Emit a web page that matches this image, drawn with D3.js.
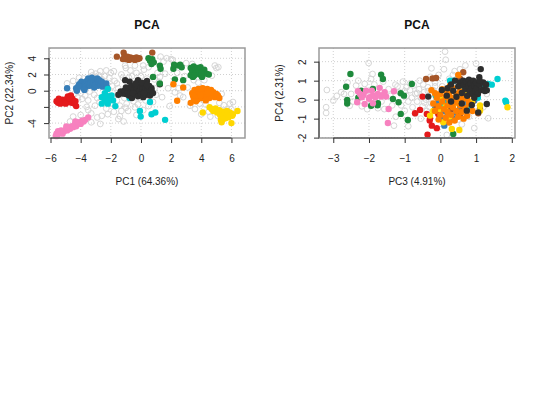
<!DOCTYPE html>
<html><head><meta charset="utf-8">
<script src="https://cdn.jsdelivr.net/npm/d3@7"></script>
<style>
body{margin:0;background:#fff;}
svg{display:block;font-family:"Liberation Sans",Arial,Helvetica,sans-serif;}
</style></head>
<body><svg id="c" width="540" height="400"></svg>
<script>
// ---------- DATA: panel 1 (PC1 vs PC2) ----------
const xTicks1 = [-6,-4,-2,0,2,4,6];
const yTicks1 = [-4,-2,0,2,4];
const yLabels1 = ["-4","","0","2","4"];
const xTitle1 = "PC1 (64.36%)";
const yTitle1 = "PC2 (22.34%)";

const gray1 = [[-4.9,0.9],[-4.5,1.2],[-4.4,-0.4],[-4.2,-0.8],[-4.0,-0.3],[-3.9,-1.0],[-3.7,-0.6],[-3.5,-1.2],[-3.4,-0.1],[-3.3,2.3],[-3.2,1.9],[-3.1,-0.5],[-3.05,-1.85],[-3.0,2.1],[-2.9,-0.9],[-2.8,1.9],[-2.75,-1.4],[-2.7,2.4],[-2.6,-3.1],[-2.7,-4.1],[-3.3,-3.9],[-3.5,-2.4],[-3.3,-2.8],[-4.7,-3.8],[-4.5,-3.2],[-4.0,-3.0],[-2.2,-2.9],[-2.4,1.8],[-2.3,2.5],[-2.1,1.6],[-2.0,2.2],[-1.9,0.6],[-1.8,2.4],[-1.75,1.2],[-1.6,-1.2],[-1.5,0.3],[-1.5,-3.5],[-1.4,-1.85],[-1.4,-3.15],[-1.3,2.0],[-1.3,-2.5],[-1.2,1.6],[-1.15,-3.8],[-1.1,-0.9],[-1.05,3.1],[-1.0,2.8],[-0.95,-1.6],[-0.85,-2.5],[-0.8,1.6],[-0.7,2.5],[-0.6,1.8],[-0.5,-1.3],[-0.4,3.1],[-0.4,-2.05],[-0.3,2.2],[-0.2,-1.7],[0.0,1.8],[0.15,3.1],[0.15,-2.4],[0.2,2.6],[0.3,-1.2],[0.4,1.5],[0.5,2.9],[0.9,0.3],[1.0,-0.5],[1.1,2.2],[1.26,1.7],[1.3,4.2],[1.5,3.6],[1.6,2.1],[1.7,4.0],[1.8,0.3],[1.9,-1.9],[2.0,3.9],[2.1,3.8],[2.25,-0.2],[2.4,2.2],[2.5,0.3],[2.6,-0.6],[2.8,-0.8],[2.9,1.8],[3.0,3.4],[3.1,0.4],[3.25,-1.85],[3.4,3.3],[3.5,1.3],[3.58,-2.26],[3.8,1.0],[3.9,-1.6],[4.0,-2.9],[4.2,1.3],[4.3,-1.7],[4.5,-2.6],[4.7,1.85],[4.9,3.1],[5.0,2.8],[5.0,-2.5],[5.13,2.9],[5.2,-1.5],[5.35,-0.4],[5.35,-3.5],[5.5,-1.8],[5.7,-2.3],[5.9,-1.6],[6.0,-2.3],[6.1,-1.4],[4.6,-3.2],[5.1,-3.1],[-0.6,0.9],[-2.5,0.6],[-1.9,-0.2],[0.8,-1.4],[1.4,-0.8],[-3.6,-2.0],[-0.1,-0.9],[-2.6,1.4],[-3.8,1.5],[-4.1,1.6],[-1.6,0.9],[-1.2,-0.4],[-2.0,-1.6],[-2.3,-2.2],[-1.0,-2.1],[0.5,-1.9],[1.2,1.1],[0.9,1.4],[-0.3,-3.0],[-1.8,-2.6],[-2.9,-3.3]];
const red1 = [[-5.6,-1.3],[-5.5,-1.5],[-5.4,-1.2],[-5.3,-1.4],[-5.2,-1.1],[-5.1,-1.5],[-5.0,-1.3],[-4.9,-1.0],[-4.85,-0.7],[-4.8,-1.4],[-4.7,-1.2],[-4.65,-0.6],[-4.6,-1.5],[-4.55,-1.0],[-4.5,-1.3],[-4.4,-1.6],[-4.3,-1.9],[-4.35,-1.3],[-5.35,-1.6],[-5.0,-1.6],[-4.75,-0.9],[-5.45,-1.0]];
const pink1 = [[-5.65,-5.6],[-5.6,-5.3],[-5.5,-5.0],[-5.4,-5.2],[-5.3,-4.9],[-5.2,-5.3],[-5.1,-5.0],[-5.0,-4.8],[-4.9,-4.9],[-4.8,-4.6],[-4.7,-4.7],[-4.6,-4.4],[-4.5,-4.5],[-4.4,-4.2],[-4.3,-4.4],[-4.2,-4.0],[-4.1,-3.9],[-4.0,-4.1],[-3.9,-3.7],[-3.8,-3.8],[-3.7,-3.6],[-3.5,-3.3],[-4.35,-3.8],[-5.55,-5.6],[-4.95,-4.4]];
const blue1 = [[-4.9,0.3],[-4.3,0.3],[-4.25,0.0],[-4.1,0.8],[-4.0,0.5],[-3.95,1.1],[-3.85,0.7],[-3.8,0.3],[-3.7,0.9],[-3.65,0.5],[-3.6,1.2],[-3.5,0.8],[-3.5,1.5],[-3.4,0.6],[-3.35,1.0],[-3.3,1.3],[-3.2,0.7],[-3.15,1.0],[-3.1,0.4],[-3.0,1.2],[-3.0,0.8],[-2.9,1.5],[-2.85,0.6],[-2.8,1.0],[-2.75,1.3],[-2.7,0.8],[-2.6,1.1],[-2.55,0.5],[-2.5,0.9],[-2.4,0.7],[-2.3,0.9],[-2.25,0.4],[-3.75,0.1],[-3.25,1.6],[-4.15,0.6]];
const cyan1 = [[-2.6,-0.8],[-2.2,0.2],[-2.4,-0.3],[-2.6,-1.6],[-2.4,-1.2],[-2.1,-1.0],[-1.85,-1.2],[-1.7,-1.9],[-2.2,-1.6],[-1.95,-0.6],[-0.75,-0.9],[-0.07,-2.5],[-0.02,-3.2],[0.7,-2.9],[0.95,-2.7],[1.6,-3.6],[0.6,-1.4],[-2.3,-0.6]];
const black1 = [[-1.05,1.3],[-0.75,1.1],[-0.2,1.3],[0.4,1.2],[0.7,0.3],[1.25,0.8],[-1.35,-0.1],[-1.2,-0.35],[-1.1,0.0],[-1.0,-0.4],[-0.9,-0.1],[-0.85,0.3],[-0.8,-0.6],[-0.7,-0.2],[-0.65,0.5],[-0.6,-0.9],[-0.5,0.1],[-0.45,-0.4],[-0.4,0.7],[-0.3,-0.2],[-0.25,0.3],[-0.2,-0.7],[-0.1,0.0],[-0.05,0.6],[0.0,-0.4],[0.1,0.2],[0.15,-0.8],[0.2,0.9],[0.25,-0.1],[0.3,0.4],[0.35,-0.5],[0.45,0.1],[0.5,-0.2],[0.55,0.6],[0.6,-0.6],[0.7,0.0],[-1.5,-0.5],[-0.55,-0.3],[0.05,1.0],[-0.35,0.9],[0.4,0.7],[-1.0,0.4],[0.2,-0.3],[0.8,-0.3]];
const brown1 = [[-1.6,4.2],[-1.15,4.7],[-1.1,4.3],[-1.0,3.9],[-0.9,4.2],[-0.8,3.8],[-0.7,4.1],[-0.6,3.9],[-0.5,4.0],[-0.4,3.8],[-0.3,4.1],[-0.2,3.9],[-0.1,4.0],[-1.2,3.9],[0.75,4.7]];
const green1 = [[0.5,4.0],[0.6,3.7],[0.75,3.9],[0.85,3.5],[0.7,3.3],[1.25,3.1],[1.3,2.7],[0.8,1.7],[1.25,0.9],[2.15,2.7],[2.25,1.4],[2.5,3.1],[2.6,3.2],[2.7,2.9],[2.8,1.3],[3.3,2.8],[3.4,2.4],[3.45,1.7],[3.5,3.0],[3.6,2.6],[3.7,2.3],[3.75,2.8],[3.85,2.5],[3.9,2.0],[3.95,2.9],[4.05,1.7],[4.1,2.4],[4.2,2.6],[4.35,2.1],[4.5,2.0],[3.3,1.9],[2.2,3.2],[4.0,2.2],[3.55,1.9]];
const orange1 = [[2.15,0.8],[2.4,-1.25],[3.3,-1.5],[2.8,0.4],[3.4,-0.3],[3.5,-0.9],[3.55,0.1],[3.6,-0.5],[3.7,-0.2],[3.75,-1.1],[3.8,0.2],[3.85,-0.7],[3.9,-0.3],[3.95,0.0],[4.0,-0.9],[4.05,-0.5],[4.1,0.3],[4.15,-0.2],[4.2,-0.7],[4.25,0.1],[4.3,-1.0],[4.35,-0.4],[4.4,0.2],[4.45,-0.6],[4.5,-0.1],[4.55,-0.9],[4.6,-0.3],[4.65,0.1],[4.7,-0.6],[4.8,-0.2],[4.9,-0.8],[5.0,-0.4],[5.1,-0.6],[5.2,-0.9],[3.45,-0.6],[3.65,-1.3],[4.0,0.25],[4.3,-1.2],[3.95,-0.55],[4.45,-0.3]];
const yellow1 = [[4.1,-2.7],[4.55,-2.05],[4.7,-2.3],[4.8,-2.5],[4.95,-2.2],[5.05,-2.7],[5.2,-2.4],[5.25,-3.0],[5.3,-3.6],[5.35,-3.9],[5.4,-2.6],[5.5,-3.2],[5.55,-2.8],[5.6,-3.4],[5.7,-2.5],[5.75,-3.0],[5.8,-3.3],[5.9,-2.7],[6.0,-4.0],[6.05,-3.1],[6.1,-2.9],[6.4,-2.5],[5.45,-3.5],[4.9,-2.4]];

// ---------- DATA: panel 2 (PC3 vs PC4) ----------
const xTicks2 = [-3,-2,-1,0,1,2];
const yTicks2 = [-2,-1,0,1,2];
const yLabels2 = ["-2","-1","0","1","2"];
const xTitle2 = "PC3 (4.91%)";
const yTitle2 = "PC4 (2.31%)";

const gray2 = [[-3.18,0.51],[-3.2,-0.4],[-3.2,-0.7],[-2.01,1.93],[-1.94,1.09],[-2.78,0.39],[-2.7,0.3],[-2.5,0.3],[-2.54,-0.32],[-2.36,0.74],[-2.12,0.83],[-1.57,-0.5],[-1.26,0.79],[-1.3,-1.37],[-1.0,-0.58],[-0.95,0.65],[0.13,2.53],[0.18,-1.86],[1.34,-0.98],[-2.9,0.2],[-2.45,-0.1],[-2.2,-0.35],[-1.85,0.8],[-1.75,-0.45],[-1.6,0.95],[-1.45,0.55],[-1.4,0.2],[-1.35,-0.3],[-1.2,0.7],[-1.15,0.4],[-1.1,-0.3],[-1.05,0.95],[-0.95,0.2],[-0.9,-0.1],[-0.85,0.5],[-0.8,0.1],[-0.78,-0.4],[-0.75,0.75],[-0.7,0.3],[-0.65,-0.1],[-0.6,0.55],[-0.58,1.0],[-0.55,0.15],[-0.5,-0.35],[-0.48,0.8],[-0.45,0.4],[-0.4,0.0],[-0.38,-0.6],[-0.35,0.65],[-0.3,0.25],[-0.28,1.2],[-0.25,-0.2],[-0.2,0.5],[-0.15,0.9],[-0.12,-0.5],[-0.1,0.1],[-0.05,1.3],[0.0,-0.85],[0.05,0.7],[0.1,1.6],[0.15,0.3],[0.2,-1.2],[0.25,1.1],[0.3,-0.6],[0.4,1.5],[0.5,-1.05],[0.6,-1.3],[0.7,1.8],[0.8,-0.9],[0.95,-1.5],[1.0,1.9],[1.2,-0.4],[1.3,0.3],[0.15,2.1],[-0.9,-1.4],[-1.25,-0.9],[-0.55,-1.0],[-0.7,-0.75],[-1.65,-0.1],[-2.05,-0.5],[-2.3,1.0],[-1.9,1.35],[-2.6,0.9],[-3.0,-0.05],[-0.25,1.65],[0.45,0.0],[0.65,0.2],[-0.85,0.85],[-0.65,0.35],[-0.35,0.45],[-0.15,0.7],[-0.45,-0.15],[-1.0,0.45],[-0.3,-0.4],[0.35,1.3],[0.55,1.6]];
const green2 = [[-2.52,1.35],[-2.64,0.68],[-2.61,-0.02],[-2.61,-0.2],[-1.66,1.32],[-1.61,1.09],[-2.22,0.47],[-1.89,0.56],[-1.94,-0.32],[-1.75,-0.19],[-1.76,-0.3],[-1.33,0.04],[-1.11,0.34],[-1.02,0.21],[-1.17,-0.14],[-1.11,-0.75],[-0.91,-1.07],[-0.8,0.83],[0.36,-1.81],[-0.05,-0.72],[-2.3,0.1]];
const pink2 = [[-2.31,0.44],[-2.33,-0.14],[-2.2,0.13],[-2.12,-0.23],[-2.08,0.47],[-1.98,0.13],[-1.92,0.47],[-1.89,0.21],[-1.89,-0.19],[-1.82,0.13],[-1.7,0.62],[-1.66,0.16],[-1.56,0.39],[-1.52,0.16],[-1.3,0.44],[-1.45,-0.49],[-1.47,-1.23],[-2.0,0.05],[-2.15,0.25],[-1.75,0.3],[-2.25,0.3],[-1.6,0.25]];
const red2 = [[-0.5,0.16],[-0.71,-0.72],[-0.57,-0.54],[-0.29,-0.98],[-0.38,-0.75],[-0.1,-1.5],[-0.36,-1.84],[-0.24,-1.37],[-0.06,-0.75],[-0.3,-1.1]];
const blue2 = [[0.0,-1.02],[0.11,-1.37],[0.55,-0.49],[-0.15,-0.49],[0.1,-0.6],[0.3,-0.3],[0.7,-0.2],[0.85,-0.5],[0.2,-0.85],[0.45,-0.7],[0.6,0.1],[0.0,-0.25],[0.95,-0.05],[0.35,-1.0],[-0.05,-0.1],[0.15,0.0]];
const cyan2 = [[0.27,1.0],[0.37,1.0],[-0.13,0.21],[1.34,0.83],[1.44,0.79],[1.6,1.09],[1.84,-0.14],[1.82,-0.05],[0.74,0.39],[0.92,0.42],[0.6,0.6],[0.45,0.25],[1.2,0.6],[0.1,-0.2],[0.8,-0.3],[1.05,0.1]];
const brown2 = [[-0.4,1.09],[-0.22,1.12],[-0.12,1.14],[0.64,1.44],[0.55,1.1],[0.55,-0.79],[1.06,-0.72],[1.11,-0.49],[0.46,0.04],[0.3,-0.5],[0.8,0.7],[0.2,0.3],[0.9,-0.1],[-0.1,-0.4],[0.65,-0.5]];
const yellow2 = [[1.88,-0.4],[1.11,-0.31],[1.11,-0.58],[0.32,-1.54],[0.53,-1.6],[-0.03,-0.49],[-0.29,-0.84],[0.08,-1.19],[0.04,-0.02],[0.88,-0.14],[0.25,-0.9],[0.5,-0.2],[-0.2,-0.6],[0.7,0.3],[0.15,-0.35]];
const orange2 = [[0.5,1.3],[0.27,0.74],[-0.15,0.34],[-0.2,-0.2],[-0.15,-0.6],[-0.1,0.1],[-0.05,-0.35],[0.0,-0.8],[0.0,0.3],[0.05,-0.1],[0.1,-0.5],[0.1,0.5],[0.15,-0.95],[0.15,0.15],[0.2,-0.3],[0.2,-0.65],[0.25,0.35],[0.25,-0.05],[0.3,-0.8],[0.3,0.1],[0.35,-0.4],[0.35,0.6],[0.4,-1.1],[0.4,-0.15],[0.45,0.3],[0.45,-0.6],[0.5,-0.9],[0.5,0.05],[0.55,-0.3],[0.55,0.45],[0.6,-0.65],[0.6,-0.05],[0.65,0.2],[0.7,-0.45],[0.75,-0.85],[0.75,0.05],[0.8,-0.2],[0.85,0.3],[0.9,-0.6],[-0.05,-1.05],[0.05,0.55],[0.25,-1.2],[0.65,-1.0],[0.95,0.6],[-0.25,0.5]];
const black2 = [[1.13,1.61],[1.09,1.18],[0.04,0.51],[0.18,0.21],[0.36,0.47],[0.41,1.0],[0.55,0.91],[0.64,1.0],[-0.34,0.16],[1.06,-0.67],[1.3,-0.23],[0.88,-0.28],[0.74,-0.58],[0.5,0.7],[0.6,0.35],[0.65,0.75],[0.7,0.55],[0.72,0.95],[0.75,0.2],[0.78,0.7],[0.8,1.05],[0.82,0.45],[0.85,0.85],[0.88,0.6],[0.9,0.3],[0.92,1.0],[0.95,0.75],[0.98,0.45],[1.0,0.9],[1.02,0.6],[1.05,0.3],[1.1,0.8],[1.15,0.5],[1.2,0.9],[1.22,0.55],[1.25,0.45],[1.3,0.5],[1.28,0.8],[0.3,0.8],[0.45,0.15],[0.2,0.6],[1.1,1.0],[0.95,0.1],[0.6,-0.2],[0.3,-0.1]];

const groupColors = {red:"#E41A1C",pink:"#F781BF",blue:"#377EB8",green:"#1E8A3C",cyan:"#00CED1",brown:"#A65628",yellow:"#FFD700",orange:"#FF7F00",black:"#2E2E2E"};

// ---------- DRAW ----------
const svg = d3.select("#c");

function panel(ox, cfg){
  const L = ox+49, R = ox+245, T = 48, B = 138;
  const x = d3.scaleLinear().domain(cfg.xDom).range([L,R]);
  const y = d3.scaleLinear().domain(cfg.yDom).range([B,T]);
  const g = svg.append("g");

  // grid
  g.selectAll(".gx").data(cfg.xTicks).join("line")
    .attr("x1",d=>x(d)).attr("x2",d=>x(d)).attr("y1",T).attr("y2",B)
    .attr("stroke","#d0d0d0").attr("stroke-width",1).attr("stroke-dasharray","1,2");
  g.selectAll(".gy").data(cfg.yTicks).join("line")
    .attr("x1",L).attr("x2",R).attr("y1",d=>y(d)).attr("y2",d=>y(d))
    .attr("stroke","#d0d0d0").attr("stroke-width",1).attr("stroke-dasharray","1,2");

  // points
  const pts = g.append("g");
  pts.selectAll(".gr").data(cfg.gray).join("circle")
    .attr("cx",d=>x(d[0])).attr("cy",d=>y(d[1])).attr("r",2.9)
    .attr("fill","none").attr("stroke","#d6d6d6").attr("stroke-width",1);
  cfg.groups.forEach(([name,arr])=>{
    pts.append("g").selectAll("circle").data(arr).join("circle")
      .attr("cx",d=>x(d[0])).attr("cy",d=>y(d[1])).attr("r",3.2)
      .attr("fill",groupColors[name]);
  });

  // box
  g.append("rect").attr("x",L).attr("y",T).attr("width",R-L).attr("height",B-T)
    .attr("fill","none").attr("stroke","#9a9a9a").attr("stroke-width",1.5);

  // axes
  const ax = g.append("g").attr("transform",`translate(0,${B})`)
    .call(d3.axisBottom(x).tickValues(cfg.xTicks).tickFormat(d3.format("d"))
      .tickSize(5).tickSizeOuter(0).tickPadding(11.5));
  ax.select(".domain").attr("d",`M${x(cfg.xTicks[0])},0H${x(cfg.xTicks[cfg.xTicks.length-1])}`)
    .attr("stroke","#333");
  ax.selectAll(".tick line").attr("stroke","#333");
  ax.selectAll("text").attr("font-size",10).attr("fill","#222");

  const ay = g.append("g").attr("transform",`translate(${L},0)`)
    .call(d3.axisLeft(y).tickValues(cfg.yTicks).tickSize(5).tickSizeOuter(0)
      .tickFormat((d,i)=>cfg.yLabels[i]));
  ay.select(".domain").attr("d",`M0,${y(cfg.yTicks[0])}V${y(cfg.yTicks[cfg.yTicks.length-1])}`)
    .attr("stroke","#333");
  ay.selectAll(".tick line").attr("stroke","#333");
  ay.selectAll("text").attr("font-size",10).attr("fill","#222")
    .attr("x",null).attr("dy",null).attr("text-anchor","middle")
    .attr("transform","translate(-13.5,0) rotate(-90)");
  ax.attr("font-family",null); ay.attr("font-family",null);

  // titles
  const cx = (L+R)/2, cy = (T+B)/2;
  svg.append("text").attr("x",cx).attr("y",28.5).attr("text-anchor","middle")
    .attr("font-size",12).attr("font-weight","bold").attr("fill","#111").text("PCA");
  svg.append("text").attr("x",cx).attr("y",184.5).attr("text-anchor","middle")
    .attr("font-size",10).attr("fill","#222").text(cfg.xTitle);
  svg.append("text").attr("transform",`translate(${ox+12.5},${cy}) rotate(-90)`)
    .attr("text-anchor","middle").attr("font-size",10).attr("fill","#222").text(cfg.yTitle);
}

panel(0,{xDom:[-6.1,6.9],yDom:[-5.84,5.27],xTicks:xTicks1,yTicks:yTicks1,yLabels:yLabels1,
  xTitle:xTitle1,yTitle:yTitle1,gray:gray1,
  groups:[["red",red1],["pink",pink1],["blue",blue1],["cyan",cyan1],["black",black1],["brown",brown1],["green",green1],["orange",orange1],["yellow",yellow1]]});

panel(270,{xDom:[-3.4,2.09],yDom:[-2.02,2.72],xTicks:xTicks2,yTicks:yTicks2,yLabels:yLabels2,
  xTitle:xTitle2,yTitle:yTitle2,gray:gray2,
  groups:[["green",green2],["pink",pink2],["red",red2],["blue",blue2],["cyan",cyan2],["brown",brown2],["yellow",yellow2],["orange",orange2],["black",black2]]});
</script></body></html>
